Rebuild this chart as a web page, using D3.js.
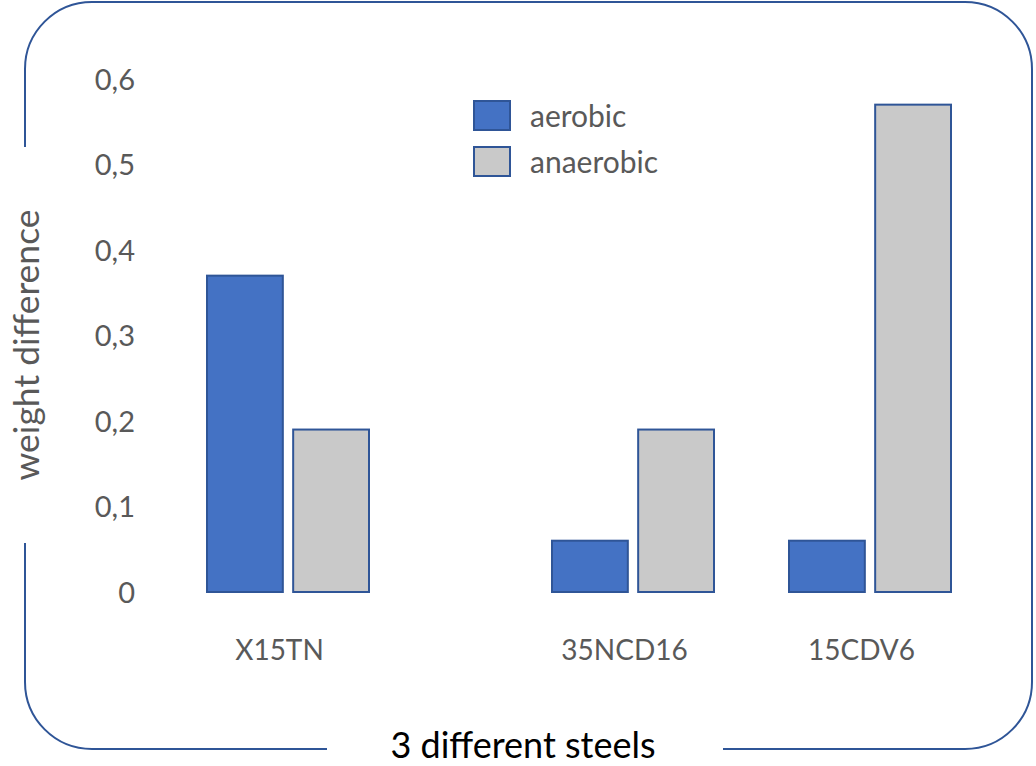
<!DOCTYPE html>
<html>
<head>
<meta charset="utf-8">
<script src="https://cdn.jsdelivr.net/npm/d3@7"></script>
<style>
  html, body { margin: 0; padding: 0; background: #fff; }
  svg { display: block; }
</style>
</head>
<body>
<svg id="chart" width="1036" height="766"></svg>
<script>
// Weight difference of three steels after aerobic / anaerobic exposure
const categories = ["X15TN", "35NCD16", "15CDV6"];
const seriesNames = ["aerobic", "anaerobic"];
const aerobic = [0.37, 0.06, 0.06];
const anaerobic = [0.19, 0.19, 0.57];
const tickValues = [0, 0.1, 0.2, 0.3, 0.4, 0.5, 0.6];
const tickLabels = ["0", "0,1", "0,2", "0,3", "0,4", "0,5", "0,6"];

const fills = { aerobic: "#4472C4", anaerobic: "#C9C9C9" };
const edge = "#2F5597";
const font = "Lato, 'Open Sans', 'DejaVu Sans', sans-serif";

const svg = d3.select("#chart");

// y scale: value -> pixel
const y = d3.scaleLinear().domain([0, 0.6]).range([592, 79]);

// category centres (groups are not evenly spaced)
const x = d3.scaleOrdinal().domain(categories).range([288, 633, 870]);
const inner = d3.scaleBand().domain(seriesNames).range([-81, 81]).paddingInner(0.12);

// frame: rounded box with openings for the two axis titles
const L = 25, T = 2, R = 1032, B = 749, r = 67;
const frame = d3.path();
frame.moveTo(L, 147);
frame.lineTo(L, T + r);
frame.arcTo(L, T, L + r, T, r);
frame.lineTo(R - r, T);
frame.arcTo(R, T, R, T + r, r);
frame.lineTo(R, B - r);
frame.arcTo(R, B, R - r, B, r);
frame.lineTo(723, B);
frame.moveTo(327, B);
frame.lineTo(L + r, B);
frame.arcTo(L, B, L, B - r, r);
frame.lineTo(L, 543);
svg.append("path").attr("d", frame.toString())
  .attr("fill", "none").attr("stroke", edge).attr("stroke-width", 2);

// y axis labels (no line, no ticks)
const yAxis = d3.axisLeft(y).tickValues(tickValues)
  .tickFormat((d, i) => tickLabels[i]).tickSize(0).tickPadding(0);
const gy = svg.append("g").attr("transform", "translate(135,0)").call(yAxis);
gy.select(".domain").remove();
gy.selectAll("text").attr("font-family", font).attr("font-size", 29)
  .attr("fill", "#595959").attr("dy", "0.35em");

// bars
const rows = categories.map((c, i) => ({ cat: c, aerobic: aerobic[i], anaerobic: anaerobic[i] }));
const groups = svg.append("g").selectAll("g").data(rows).join("g")
  .attr("transform", d => `translate(${x(d.cat)},0)`);
groups.selectAll("rect")
  .data(d => seriesNames.map(s => ({ s, v: d[s] })))
  .join("rect")
  .attr("x", d => inner(d.s))
  .attr("width", inner.bandwidth())
  .attr("y", d => y(d.v))
  .attr("height", d => y(0) - y(d.v))
  .attr("fill", d => fills[d.s])
  .attr("stroke", edge).attr("stroke-width", 2);

// category labels
const xAxis = d3.axisBottom(x).tickSize(0).tickPadding(0);
const gx = svg.append("g").attr("transform", "translate(-9,650)").call(xAxis);
gx.select(".domain").remove();
gx.selectAll("text").attr("font-family", font).attr("font-size", 28)
  .attr("fill", "#595959").attr("dy", "0.35em");

// legend
const legend = svg.append("g").attr("transform", "translate(474,101)");
const li = legend.selectAll("g").data(seriesNames).join("g")
  .attr("transform", (d, i) => `translate(0,${i * 46})`);
li.append("rect").attr("width", 36).attr("height", 29)
  .attr("fill", d => fills[d]).attr("stroke", edge).attr("stroke-width", 2);
li.append("text").attr("x", 56).attr("y", 15).attr("dy", "0.35em")
  .attr("font-family", font).attr("font-size", 30).attr("fill", "#595959")
  .text(d => d);

// axis titles
svg.append("text")
  .attr("transform", "translate(39,345) rotate(-90)")
  .attr("text-anchor", "middle")
  .attr("font-family", font).attr("font-size", 35.5).attr("fill", "#595959")
  .text("weight difference");
svg.append("text")
  .attr("x", 523).attr("y", 758).attr("text-anchor", "middle")
  .attr("font-family", font).attr("font-size", 36).attr("fill", "#000")
  .text("3 different steels");
</script>
</body>
</html>
